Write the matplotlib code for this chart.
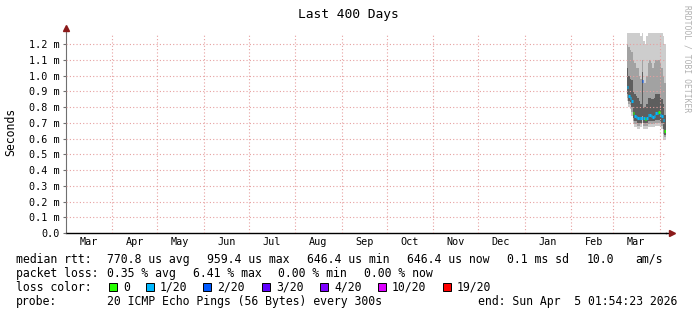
import matplotlib
matplotlib.use('Agg')
import matplotlib.pyplot as plt
import matplotlib.dates as mdates
from matplotlib.patches import Rectangle
from datetime import datetime

# time window of the graph (last 400 days)
START = datetime(2025, 3, 1, 1, 54, 23)
END = datetime(2026, 4, 5, 1, 54, 23)

# daily consolidated values (ms)
days = ['2026-03-10', '2026-03-11', '2026-03-12', '2026-03-13', '2026-03-14',
        '2026-03-15', '2026-03-16', '2026-03-17', '2026-03-18', '2026-03-19',
        '2026-03-20', '2026-03-21', '2026-03-22', '2026-03-23', '2026-03-24',
        '2026-03-25', '2026-03-26', '2026-03-27', '2026-03-28', '2026-03-29',
        '2026-03-30', '2026-03-31', '2026-04-01', '2026-04-02', '2026-04-03',
        '2026-04-04']
median = [0.93, 0.87, 0.86, 0.84, 0.76, 0.74, 0.735, 0.73, 0.73, 0.73,
          0.965, 0.73, 0.725, 0.73, 0.75, 0.75, 0.74, 0.735, 0.745, 0.76,
          0.765, 0.77, 0.75, 0.74, 0.72, 0.65]
loss = [1, 1, 1, 1, 0, 1, 1, 1, 1, 1,
        2, 1, 0, 1, 1, 1, 1, 1, 1, 1,
        1, 0, 1, 1, 1, 0]
ping_min = [0.84, 0.80, 0.79, 0.74, 0.69, 0.67, 0.67, 0.66, 0.66, 0.67,
            0.70, 0.66, 0.66, 0.66, 0.67, 0.67, 0.67, 0.67, 0.67, 0.68,
            0.68, 0.68, 0.67, 0.66, 0.60, 0.59]
ping_p10 = [0.86, 0.82, 0.81, 0.77, 0.71, 0.69, 0.69, 0.68, 0.68, 0.69,
            0.72, 0.68, 0.68, 0.68, 0.69, 0.69, 0.69, 0.69, 0.69, 0.70,
            0.70, 0.70, 0.69, 0.68, 0.63, 0.61]
ping_p25 = [0.88, 0.84, 0.83, 0.80, 0.73, 0.71, 0.71, 0.70, 0.70, 0.70,
            0.74, 0.70, 0.70, 0.70, 0.71, 0.71, 0.71, 0.71, 0.71, 0.72,
            0.72, 0.72, 0.71, 0.70, 0.66, 0.62]
ping_p75 = [1.05, 1.00, 0.98, 0.97, 0.90, 0.88, 0.87, 0.86, 0.84, 0.82,
            1.02, 0.80, 0.80, 0.82, 0.86, 0.86, 0.85, 0.85, 0.86, 0.88,
            0.88, 0.88, 0.86, 0.85, 0.82, 0.75]
ping_p90 = [1.20, 1.18, 1.16, 1.15, 1.10, 1.08, 1.05, 1.05, 1.00, 0.98,
            1.10, 0.95, 0.95, 1.00, 1.08, 1.10, 1.08, 1.05, 1.08, 1.10,
            1.10, 1.10, 1.08, 1.05, 1.00, 0.95]
ping_max = [1.30, 1.30, 1.30, 1.30, 1.30, 1.30, 1.30, 1.30, 1.30, 1.25,
            1.30, 1.22, 1.20, 1.25, 1.30, 1.30, 1.30, 1.30, 1.30, 1.30,
            1.30, 1.30, 1.30, 1.30, 1.25, 1.20]

loss_labels = ['0', '1/20', '2/20', '3/20', '4/20', '10/20', '19/20']
loss_colors = ['#26ff00', '#00b8ff', '#0059ff', '#5e00ff', '#7e00ff', '#dd00ff', '#ff0000']

y_ticks = [0.0, 0.1, 0.2, 0.3, 0.4, 0.5, 0.6, 0.7, 0.8, 0.9, 1.0, 1.1, 1.2]

plt.rcParams['font.family'] = ['DejaVu Sans Mono']

W, H = 697, 315
fig = plt.figure(figsize=(W / 100, H / 100), dpi=100)
fig.patch.set_facecolor('white')


def fx(px):
    return px / W


def fy(py):
    return 1 - py / H


ax = fig.add_axes([fx(66), fy(233), 600 / W, 200 / H])
ax.set_xlim(START, END)
ax.set_ylim(0, 1.27)

# step edges: day starts plus graph end
starts = [datetime.strptime(d, '%Y-%m-%d') for d in days]
edges = starts + [END]


def ext(v):
    return list(v) + [v[-1]]


# smoke, outer to inner
ax.fill_between(edges, ext(ping_min), ext(ping_max), step='post', color='#cdcdcd', lw=0, zorder=1)
ax.fill_between(edges, ext(ping_p10), ext(ping_p90), step='post', color='#a2a2a2', lw=0, zorder=1.1)
ax.fill_between(edges, ext(ping_p25), ext(ping_p75), step='post', color='#5e5e5e', lw=0, zorder=1.2)

# median line coloured by loss
ax.hlines(median, edges[:-1], edges[1:], colors=[loss_colors[l] for l in loss],
          lw=2.2, zorder=4)

# grid
ax.set_yticks(y_ticks)
ax.set_yticklabels(['0.0'] + ['%.1f m' % v for v in y_ticks[1:]])
month_starts = [datetime(2025, m, 1) for m in range(4, 13)] + [datetime(2026, m, 1) for m in range(1, 5)]
ax.set_xticks(month_starts)
ax.set_xticklabels([])
mid_months = [datetime(2025, m, 16) for m in range(3, 13)] + [datetime(2026, m, 16) for m in range(1, 4)]
ax.set_xticks(mid_months, minor=True)
ax.xaxis.set_minor_formatter(mdates.DateFormatter('%b'))
ax.set_axisbelow(False)
ax.grid(True, which='major', color='#e6a0a0', linestyle=(0, (1, 2)), lw=0.8, zorder=3)

ax.tick_params(axis='y', length=2.2, width=0.8, color='#707070', pad=2.5, labelsize=7.3)
ax.tick_params(axis='x', which='major', length=0)
ax.tick_params(axis='x', which='minor', length=0, pad=3, labelsize=7.3)

for s in ['top', 'right']:
    ax.spines[s].set_visible(False)
ax.spines['left'].set_color('#707070')
ax.spines['left'].set_linewidth(0.8)
ax.spines['bottom'].set_color('black')
ax.spines['bottom'].set_linewidth(1.0)

# axis arrows
ax.plot([1.0, 1.01], [0, 0], color='black', lw=1.0, transform=ax.transAxes, clip_on=False)
ax.plot([1.01], [0], marker='>', ms=4, color='#8b1a1a', transform=ax.transAxes, clip_on=False)
ax.plot([0, 0], [1.0, 1.025], color='#707070', lw=0.8, transform=ax.transAxes, clip_on=False)
ax.plot([0], [1.025], marker='^', ms=4, color='#8b1a1a', transform=ax.transAxes, clip_on=False)

# titles
fig.text(fx(348.5), fy(18), 'Last 400 Days', ha='center', va='baseline', fontsize=9.3)
fig.text(fx(11), fy(132), 'Seconds', rotation=90, ha='center', va='center', fontsize=8.3)
fig.text(fx(687), fy(5), 'RRDTOOL / TOBI OETIKER', rotation=270, ha='center', va='top',
         fontsize=5.8, color='#b0b0b0')

# legend lines
fs = 8.3
line1 = [(16, 'median rtt:'), (107, '770.8 us avg'), (207, '959.4 us max'),
         (307, '646.4 us min'), (407, '646.4 us now'), (507, '0.1 ms sd'),
         (587, '10.0'), (635, 'am/s')]
for x, t in line1:
    fig.text(fx(x), fy(263), t, va='baseline', fontsize=fs)

line2 = [(16, 'packet loss:'), (107, '0.35 % avg'), (193, '6.41 % max'),
         (278, '0.00 % min'), (364, '0.00 % now')]
for x, t in line2:
    fig.text(fx(x), fy(277), t, va='baseline', fontsize=fs)

fig.text(fx(16), fy(291), 'loss color:', va='baseline', fontsize=fs)
sq_x = [109, 146, 203, 262, 320, 378, 443]
for x, lab, col in zip(sq_x, loss_labels, loss_colors):
    fig.add_artist(Rectangle((fx(x), fy(291)), 7.5 / W, 8 / H, transform=fig.transFigure,
                             facecolor=col, edgecolor='black', lw=0.7))
    fig.text(fx(x + 14), fy(291), lab, va='baseline', fontsize=fs)

fig.text(fx(16), fy(305), 'probe:', va='baseline', fontsize=fs)
fig.text(fx(107), fy(305), '20 ICMP Echo Pings (56 Bytes) every 300s', va='baseline', fontsize=fs)
fig.text(fx(478), fy(305), 'end: Sun Apr  5 01:54:23 2026', va='baseline', fontsize=fs)

fig.savefig('out.png', dpi=100)
